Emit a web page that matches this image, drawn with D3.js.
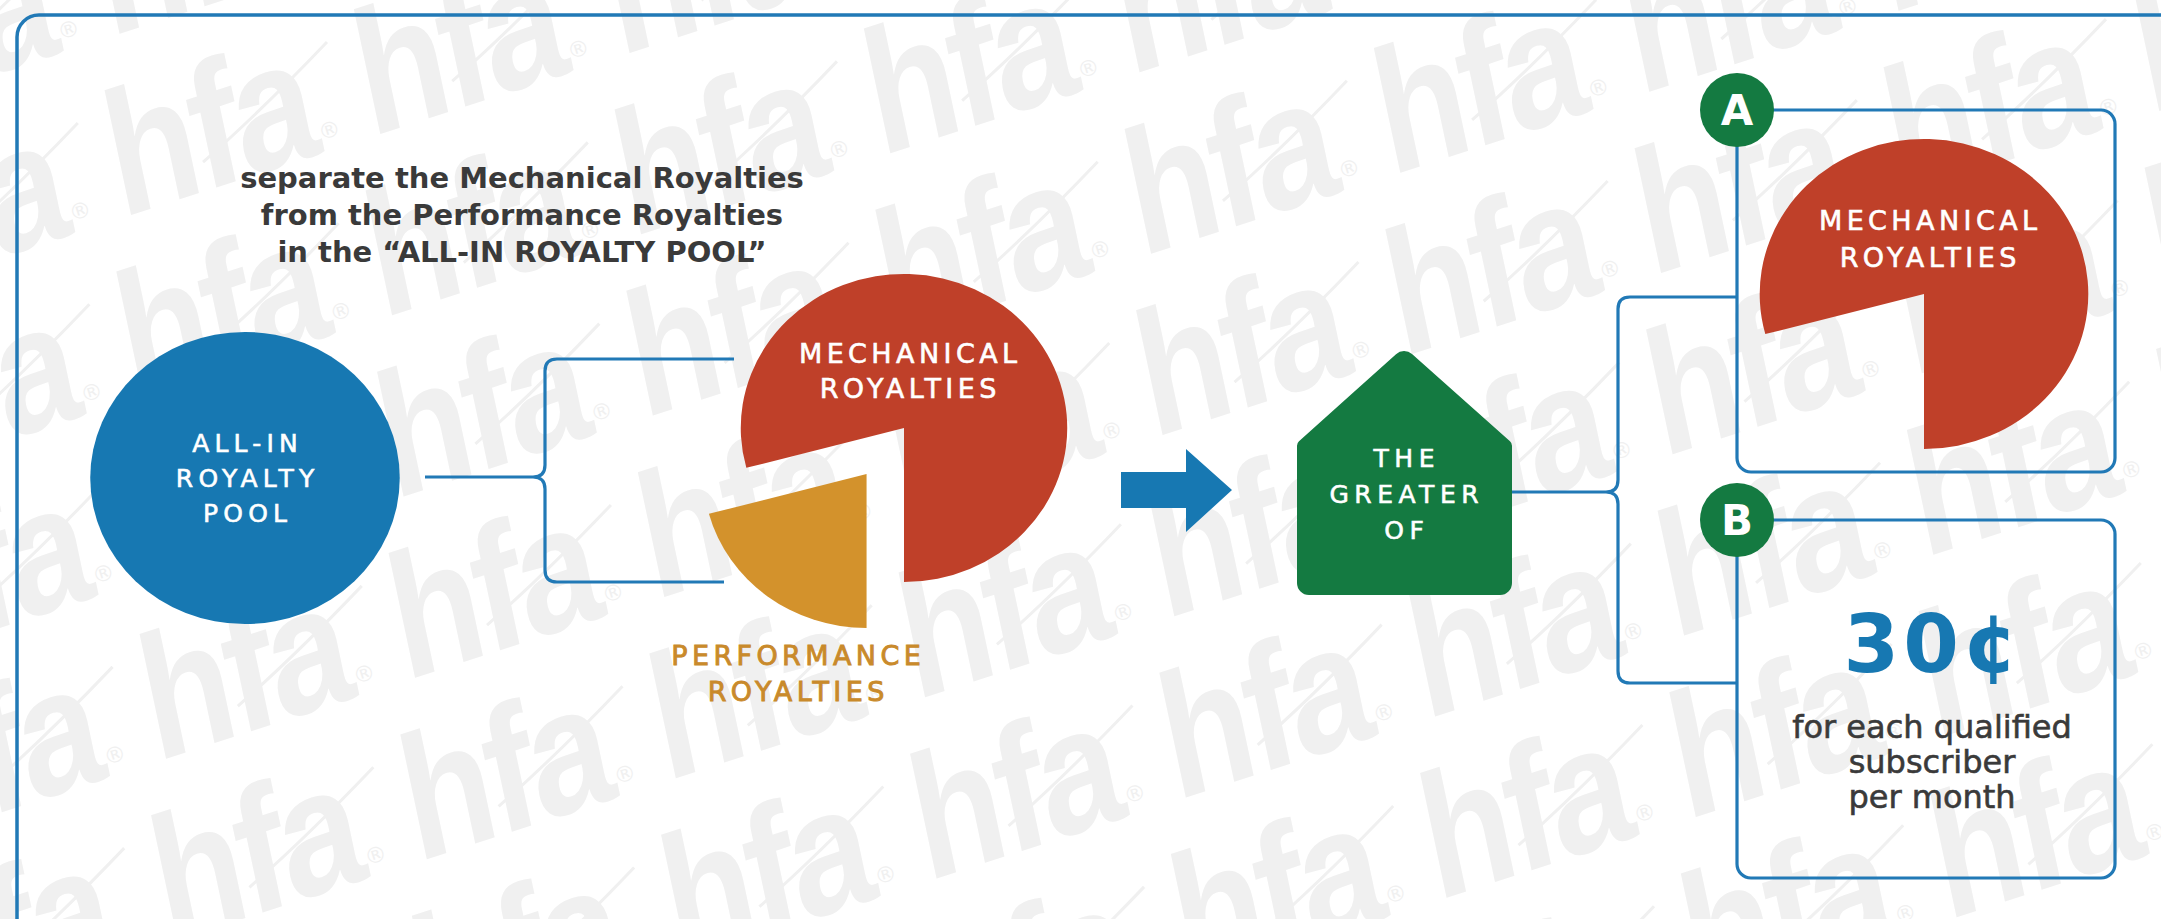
<!DOCTYPE html>
<html><head><meta charset="utf-8">
<script src="https://cdn.jsdelivr.net/npm/d3@7"></script>
<style>html,body{margin:0;padding:0;background:#fff;} svg{display:block}</style>
</head><body>
<svg id="chart" width="2161" height="919"></svg>
<script>
// ---------- data ----------
const titleLines = ["separate the Mechanical Royalties", "from the Performance Royalties", "in the \u201CALL-IN ROYALTY POOL\u201D"];
const poolLines = ["ALL-IN", "ROYALTY", "POOL"];
const pieCategories = ["MECHANICAL ROYALTIES", "PERFORMANCE ROYALTIES"];
const pieValues = [285, 75];            // share of the all-in pool (degrees of the pie)
const mechanicalLines = ["MECHANICAL", "ROYALTIES"];
const performanceLines = ["PERFORMANCE", "ROYALTIES"];
const greaterLines = ["THE", "GREATER", "OF"];
const optionKeys = ["A", "B"];
const optionBRate = ["30\u00A2"];
const optionBLines = ["for each qualified", "subscriber", "per month"];
const watermarkWord = ["hfa"];

// ---------- setup ----------
const W = 2161, H = 919;
const svg = d3.select("#chart");
const C = {blue: "#1778b2", line: "#2179b6", red: "#bf4029", gold: "#d3922c", goldText: "#c98a2b",
           green: "#147a41", text: "#3a3a3a", wm: "#f0f0f0"};
const SX = 1.06;   // horizontal stretch of the source artwork
const deg = Math.PI / 180;
const LBL = "'DejaVu Sans', Verdana, sans-serif";

svg.append("rect").attr("width", W).attr("height", H).attr("fill", "#fff");

// ---------- watermark ----------
const rot = 18 * deg;
const toScreen = (u, v) => [u * Math.cos(rot) + v * Math.sin(rot), -u * Math.sin(rot) + v * Math.cos(rot)];
const cells = [];
for (let k = -5; k <= 9; k++) {
  const v = 1125 - 176 * k;
  for (let i = -8; i <= 12; i++) {
    const u = 85 + 45 * k + 262 * i;
    const corners = [[u - 25, v - 135], [u + 245, v - 135], [u - 25, v + 12], [u + 245, v + 12]].map(c => toScreen(c[0], c[1]));
    if (corners.some(c => c[0] > 0 && c[0] < W && c[1] > 0 && c[1] < H)) cells.push({u, v});
  }
}
const wm = svg.append("g").attr("transform", "rotate(-18)");
const wcell = wm.selectAll("g.wm").data(cells).join("g").attr("class", "wm")
  .attr("transform", d => `translate(${d.u},${d.v})`);
wcell.append("text").text(watermarkWord[0])
  .attr("transform", "skewX(-6) scale(0.85,1)")
  .attr("font-family", "'Liberation Sans', Arial, sans-serif").attr("font-weight", "bold")
  .attr("font-size", 175).attr("letter-spacing", -6)
  .attr("fill", C.wm);
wcell.append("path").attr("d", "M95,-28 Q165,-58 250,-104").attr("fill", "none")
  .attr("stroke", C.wm).attr("stroke-width", 3);
wcell.append("text").text("\u00AE").attr("x", 214).attr("y", -12)
  .attr("font-family", LBL).attr("font-size", 22).attr("fill", C.wm);

// ---------- outer frame ----------
svg.append("rect").attr("x", 17).attr("y", 15).attr("width", 2400).attr("height", 1200)
  .attr("rx", 22).attr("fill", "none").attr("stroke", C.line).attr("stroke-width", 3.5);

// ---------- helpers ----------
function textLines(sel, arr, x, y0, dy, size, fill, opts = {}) {
  const t = sel.append("g");
  t.selectAll("text").data(arr).join("text")
    .attr("x", x).attr("y", (d, i) => y0 + i * dy)
    .attr("text-anchor", "middle")
    .attr("font-family", opts.family || LBL)
    .attr("font-weight", opts.weight || "normal")
    .attr("font-size", size)
    .attr("letter-spacing", opts.ls || 0)
    .attr("fill", fill)
    .attr("stroke", opts.stroke || "none").attr("stroke-width", opts.sw || 0)
    .text(d => d);
  if (opts.ls) t.selectAll("text").attr("dx", opts.ls / 2);
  return t;
}
function bracePath(x, yTop, yMid, yBot, xIn, xTopEnd, xBotEnd, r) {
  const p = d3.path();
  p.moveTo(xIn, yMid); p.lineTo(x - r, yMid);
  p.quadraticCurveTo(x, yMid, x, yMid - r); p.lineTo(x, yTop + r);
  p.quadraticCurveTo(x, yTop, x + r, yTop); p.lineTo(xTopEnd, yTop);
  p.moveTo(x - r, yMid);
  p.quadraticCurveTo(x, yMid, x, yMid + r); p.lineTo(x, yBot - r);
  p.quadraticCurveTo(x, yBot, x + r, yBot); p.lineTo(xBotEnd, yBot);
  return p.toString();
}
function boxPath(x0, y0, x1, y1, r) {
  const p = d3.path();
  p.moveTo(x0, y0);
  p.arcTo(x1, y0, x1, y1, r);
  p.arcTo(x1, y1, x0, y1, r);
  p.arcTo(x0, y1, x0, y0, r);
  p.lineTo(x0, y0);
  return p.toString();
}
function roundedPoly(pts, radii) {
  const p = d3.path();
  const n = pts.length;
  const m0 = [(pts[n - 1][0] + pts[0][0]) / 2, (pts[n - 1][1] + pts[0][1]) / 2];
  p.moveTo(m0[0], m0[1]);
  for (let i = 0; i < n; i++) {
    const a = pts[i], b = pts[(i + 1) % n];
    p.arcTo(a[0], a[1], b[0], b[1], radii[i]);
  }
  p.closePath();
  return p.toString();
}

// ---------- connectors ----------
const lines = svg.append("g").attr("fill", "none").attr("stroke", C.line).attr("stroke-width", 3.2);
lines.append("path").attr("d", bracePath(545, 359, 477, 582, 425, 734, 724, 12));
lines.append("path").attr("d", bracePath(1618, 297, 492, 683, 1512, 1737, 1737, 12));
lines.append("path").attr("d", boxPath(1737, 110, 2115, 472, 14));
lines.append("path").attr("d", boxPath(1737, 520, 2115, 878, 14));

// ---------- title ----------
textLines(svg, titleLines, 522, 188, 37, 29, C.text, {weight: "bold"});

// ---------- all-in pool circle ----------
svg.append("ellipse").attr("cx", 245).attr("cy", 478).attr("rx", 146 * SX).attr("ry", 146).attr("fill", C.blue);
textLines(svg, poolLines, 245, 452, 35, 25, "#fff", {ls: 5.2, stroke: "#fff", sw: 0.6});

// ---------- split pie ----------
const pie = d3.pie().sort(null).startAngle(-105 * deg).endAngle(255 * deg);
const arcs = pie(pieValues);
const R = 154;
const arc = d3.arc().innerRadius(0).outerRadius(R);
const colors = [C.red, C.gold];
const explode = [0, 58];
const pieG = svg.append("g").attr("transform", `translate(904,428) scale(${SX},1)`);
pieG.selectAll("path").data(arcs).join("path")
  .attr("d", arc)
  .attr("fill", (d, i) => colors[i])
  .attr("transform", (d, i) => {
    const mid = (d.startAngle + d.endAngle) / 2;
    return `translate(${explode[i] * Math.sin(mid)},${-explode[i] * Math.cos(mid)})`;
  })
  .append("title").text((d, i) => pieCategories[i]);
textLines(svg, mechanicalLines, 908, 363, 35, 27, "#fff", {ls: 4.4, stroke: "#fff", sw: 0.6});
textLines(svg, performanceLines, 796, 665, 36, 27, C.goldText, {ls: 4.4, stroke: C.goldText, sw: 0.9});

// ---------- arrow ----------
const ap = d3.path();
ap.moveTo(1121, 472); ap.lineTo(1186, 472); ap.lineTo(1186, 449); ap.lineTo(1232, 490);
ap.lineTo(1186, 532); ap.lineTo(1186, 508); ap.lineTo(1121, 508); ap.closePath();
svg.append("path").attr("d", ap.toString()).attr("fill", C.blue);

// ---------- "the greater of" house ----------
svg.append("path")
  .attr("d", roundedPoly([[1404, 347], [1512, 443], [1512, 595], [1297, 595], [1297, 443]], [12, 6, 12, 12, 6]))
  .attr("fill", C.green);
textLines(svg, greaterLines, 1404, 467, 36, 25, "#fff", {ls: 5.5, stroke: "#fff", sw: 0.6});

// ---------- option A ----------
const pieA = svg.append("g").attr("transform", `translate(1924,294) scale(${SX},1)`);
pieA.append("path").attr("d", d3.arc().innerRadius(0).outerRadius(155)(arcs[0])).attr("fill", C.red)
  .append("title").text(pieCategories[0]);
textLines(svg, mechanicalLines, 1928, 230, 37, 27, "#fff", {ls: 4.4, stroke: "#fff", sw: 0.6});

// ---------- option B ----------
textLines(svg, optionBRate, 1931, 672, 0, 80, C.blue, {weight: "bold", ls: 4});
textLines(svg, optionBLines, 1932, 738, 35, 32, C.text, {stroke: C.text, sw: 0.6});

// ---------- badges ----------
const badge = svg.selectAll("g.badge").data(optionKeys).join("g").attr("class", "badge")
  .attr("transform", (d, i) => `translate(1737,${[110, 520][i]})`);
badge.append("circle").attr("r", 37).attr("fill", C.green);
badge.append("text").text(d => d).attr("text-anchor", "middle").attr("y", 15)
  .attr("font-family", LBL).attr("font-weight", "bold").attr("font-size", 42).attr("fill", "#fff");
</script>
</body></html>
